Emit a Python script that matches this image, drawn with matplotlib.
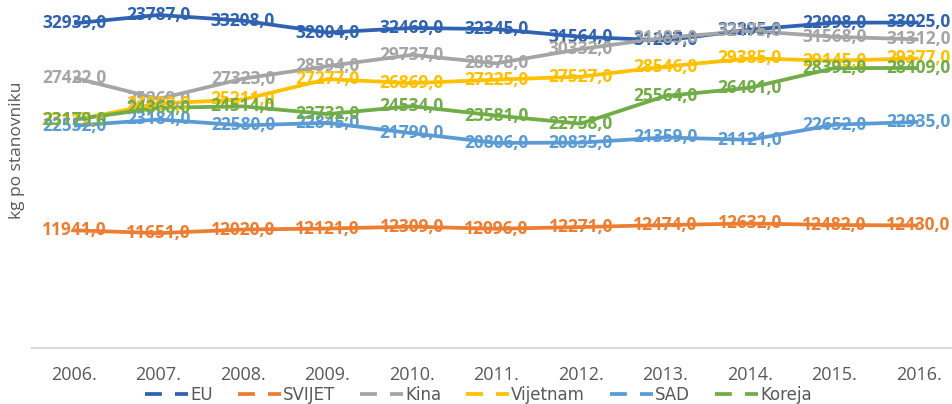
import matplotlib.pyplot as plt
from matplotlib.lines import Line2D

years = ['2006.', '2007.', '2008.', '2009.', '2010.', '2011.', '2012.', '2013.', '2014.', '2015.', '2016.']

eu = [32939, 33787, 33208, 32004, 32469, 32345, 31564, 31207, 32295, 32998, 33025]
svijet = [11941, 11651, 12020, 12121, 12309, 12096, 12271, 12474, 12632, 12482, 12430]
kina = [27422, 25269, 27323, 28594, 29737, 28878, 30332, 31485, 32175, 31568, 31312]
vijetnam = [23117, 24800, 25211, 27277, 26869, 27225, 27527, 28546, 29385, 29145, 29377]
sad = [22552, 23184, 22580, 22845, 21790, 20806, 20835, 21359, 21121, 22652, 22935]
koreja = [23179, 24368, 24514, 23732, 24534, 23581, 22758, 25564, 26401, 28392, 28409]

# the labels in the source have a couple of typos for EU, kept as shown
eu_shown = [32939, 23787, 33208, 32004, 32469, 32345, 31564, 31207, 32295, 22998, 33025]

series = [
    ('EU', eu, eu_shown, '#2f63b1'),
    ('SVIJET', svijet, svijet, '#ed7d31'),
    ('Kina', kina, kina, '#a5a5a5'),
    ('Vijetnam', vijetnam, vijetnam, '#ffc000'),
    ('SAD', sad, sad, '#5b9bd5'),
    ('Koreja', koreja, koreja, '#70ad47'),
]

fig = plt.figure(figsize=(9.53, 4.04), dpi=100)
ax = fig.add_axes([31.8/953, 1-348/404, 929/953, 345/404])

x = list(range(len(years)))
for name, vals, shown, col in series:
    ax.plot(x, vals, color=col, lw=2.7, solid_capstyle='butt', zorder=2)

z = 3
for name, vals, shown, col in series:
    for xi, v, s in zip(x, vals, shown):
        ax.text(xi, v, f'{s},0', color=col, ha='center', va='center',
                fontsize=12.5, fontweight='bold', family=['Open Sans', 'DejaVu Sans'], zorder=z)
    z += 1

ax.set_xlim(-0.5, len(years) - 0.5)
ax.set_ylim(0, 35000)
ax.set_yticks([])
ax.set_xticks(x)
ax.set_xticklabels(years, fontsize=13, color='#595959', family=['Open Sans', 'DejaVu Sans'])
ax.tick_params(axis='x', length=0, pad=13)
for s in ['top', 'right', 'left']:
    ax.spines[s].set_visible(False)
ax.spines['bottom'].set_color('#d9d9d9')
ax.spines['bottom'].set_linewidth(1.5)

fig.text(17/953, 1-150/404, 'kg po stanovniku', rotation=90, ha='center', va='center',
         fontsize=12.5, color='#595959', family=['Open Sans', 'DejaVu Sans'])

handles = [Line2D([], [], color=col, lw=2.7, ls=(0, (4.5, 3.5))) for _, _, _, col in series]
fig.legend(handles, [s[0] for s in series], loc='center', bbox_to_anchor=(0.502, 1-395/404),
           ncol=6, frameon=False, handlelength=2.6, handletextpad=0.1,
           columnspacing=1.5, labelcolor='#595959', prop={'family': 'Liberation Sans Narrow', 'size': 12})

fig.savefig('out.png', dpi=100)
